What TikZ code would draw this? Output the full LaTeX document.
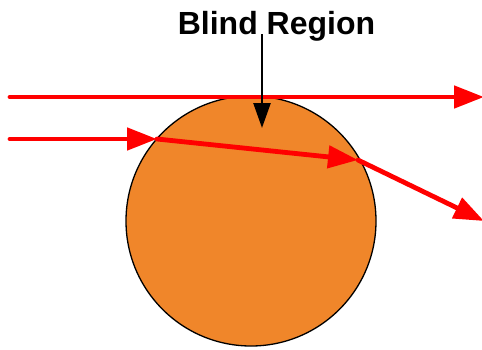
\documentclass[tikz,border=0pt]{standalone}
\usepackage{fontspec}
\setmainfont{Liberation Sans}
\usetikzlibrary{arrows.meta}
\definecolor{ballorange}{HTML}{F0862A}

\begin{document}
\begin{tikzpicture}[x=1pt,y=-1pt]
    \useasboundingbox (0,0) rectangle (482,349);
    \tikzset{ray/.style={red, line width=4.8pt, line cap=round},
             raytip/.style={-{Triangle[length=30pt,width=22pt]}}}

    \coordinate (O) at (251,221);
    \filldraw[fill=ballorange, draw=black, line width=1.3pt] (O) circle (125);

    \coordinate (T1) at (10,97); \coordinate (T2) at (484,97);
    \coordinate (L1) at (10,139); \coordinate (E1) at (157,139);
    \coordinate (E2) at (358,160); \coordinate (X2) at (484,221);

    \draw[ray, raytip] (T1) -- (T2);
    \draw[ray, raytip] (L1) -- (E1);
    \draw[ray, raytip] (E1) -- (E2);
    \draw[ray, raytip] (E2) -- (X2);

    \node[anchor=base, font=\fontsize{32}{36}\selectfont\bfseries, inner sep=0pt] (lbl) at (276.5,34) {Blind Region};
    \coordinate (B) at (262,128);
    \draw[line width=2.5pt, -{Triangle[length=25pt,width=17pt]}] (262,34) -- (B);
\end{tikzpicture}
\end{document}
